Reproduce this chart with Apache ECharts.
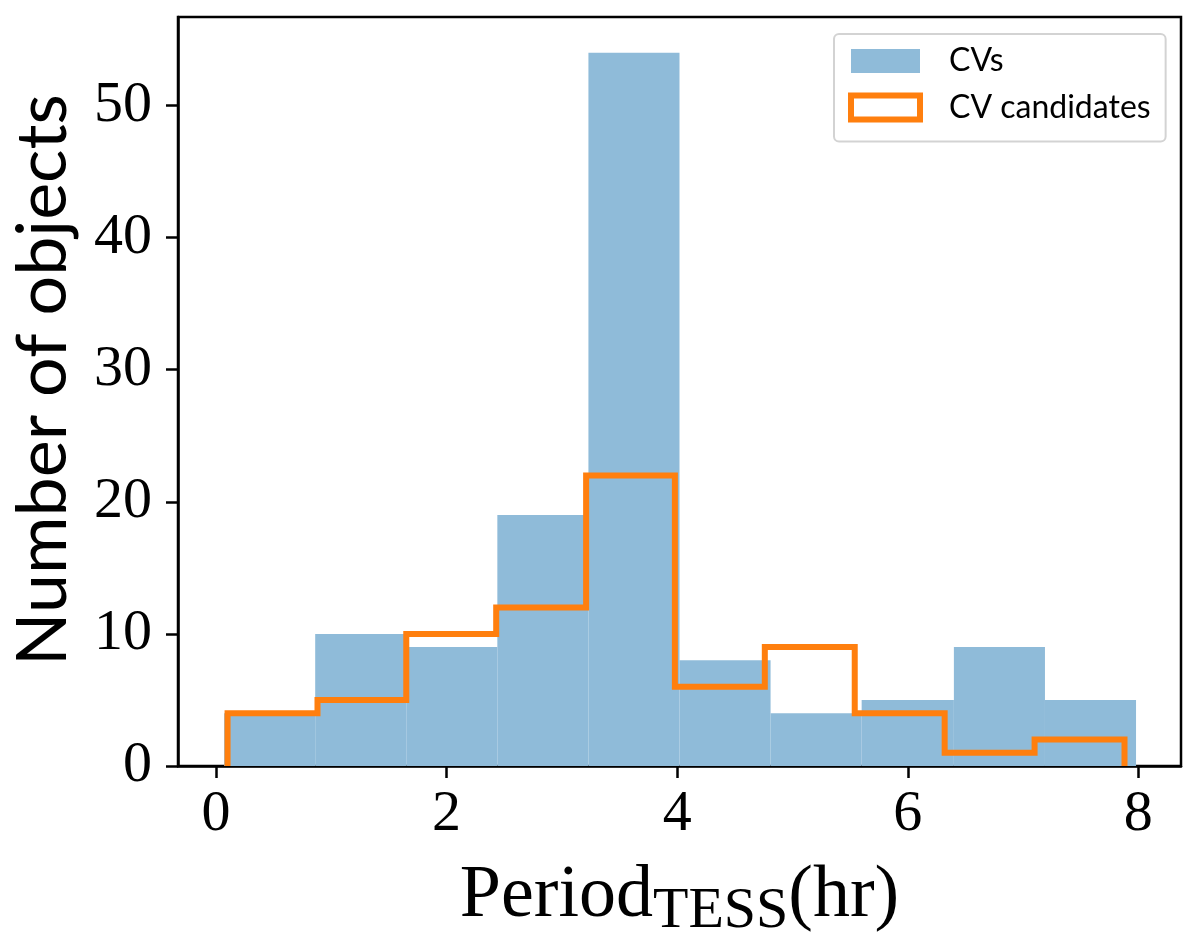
<!DOCTYPE html>
<html><head><meta charset="utf-8">
<script src="https://cdn.jsdelivr.net/npm/echarts@6/dist/echarts.min.js"></script>
<style>html,body{margin:0;padding:0;background:#fff}#c{width:1200px;height:949px}</style>
</head><body><div id="c"></div>
<script>
// histogram bin edges (hr) and counts
const cvEdges = [0.07, 0.86, 1.65, 2.44, 3.23, 4.02, 4.81, 5.60, 6.40, 7.19, 7.98];
const cvCounts = [4, 10, 9, 19, 54, 8, 4, 5, 9, 5];
const candEdges = [0.10, 0.88, 1.65, 2.43, 3.21, 3.98, 4.76, 5.54, 6.32, 7.10, 7.88];
const candCounts = [4, 5, 10, 12, 22, 6, 9, 4, 1, 2];
const xTicks = [0, 2, 4, 6, 8];
const yTicks = [0, 10, 20, 30, 40, 50];
const seriesNames = ['CVs', 'CV candidates'];

const cvData = cvCounts.map((c, i) => [cvEdges[i], cvEdges[i + 1], c]);
const stepData = [[candEdges[0], 0]];
candCounts.forEach((c, i) => { stepData.push([candEdges[i], c]); stepData.push([candEdges[i + 1], c]); });
stepData.push([candEdges[candEdges.length - 1], 0]);

const blue = '#8fbbd9', orange = '#ff7f0e';
const chart = echarts.init(document.getElementById('c'), null, {renderer: 'canvas'});
chart.setOption({
  animation: false,
  backgroundColor: '#fff',
  grid: {left: 178, right: 19, top: 17, bottom: 183, show: true, borderColor: '#000', borderWidth: 2.5, backgroundColor: 'transparent'},
  xAxis: {
    type: 'value', min: -0.33, max: 8.37,
    axisLine: {show: true, onZero: false, lineStyle: {color: '#000', width: 2.5}},
    axisTick: {show: true, length: 12, lineStyle: {color: '#000', width: 2.5}, customValues: xTicks},
    axisLabel: {customValues: xTicks, fontFamily: 'Liberation Serif', fontSize: 58, color: '#000', margin: 20},
    splitLine: {show: false},
    name: '{a|Period}{b|TESS}{a|(hr)}', nameLocation: 'middle', nameGap: 94,
    nameTextStyle: {rich: {
      a: {fontFamily: 'Liberation Serif', fontSize: 74, lineHeight: 74, color: '#000'},
      b: {fontFamily: 'Liberation Serif', fontSize: 58, lineHeight: 58, padding: [30, 0, 0, 0], color: '#000'}
    }}
  },
  yAxis: {
    type: 'value', min: 0, max: 56.7,
    axisLine: {show: true, onZero: false, lineStyle: {color: '#000', width: 2.5}},
    axisTick: {show: true, length: 12, lineStyle: {color: '#000', width: 2.5}, customValues: yTicks},
    axisLabel: {customValues: yTicks, fontFamily: 'Liberation Serif', fontSize: 58, color: '#000', margin: 26},
    splitLine: {show: false},
    name: 'Number of objects', nameLocation: 'middle', nameGap: 100,
    nameTextStyle: {fontFamily: 'Lato', fontSize: 70, color: '#000', padding: [0, 0, 0, 23]}
  },
  legend: {
    orient: 'vertical', left: 834, top: 34, padding: [11, 15, 18, 14], itemGap: 14.5,
    itemWidth: 69, itemHeight: 24, backgroundColor: '#fff', borderColor: '#d3d3d3', borderWidth: 2, borderRadius: 5,
    textStyle: {fontFamily: 'Lato', fontSize: 32, color: '#000', padding: [0, 0, 0, 24], lineHeight: 30},
    data: [
      {name: seriesNames[0], icon: 'rect', itemStyle: {color: blue, borderWidth: 0}},
      {name: seriesNames[1], icon: 'rect', itemStyle: {color: '#fff', borderColor: orange, borderWidth: 6}}
    ]
  },
  series: [
    {
      name: seriesNames[0], type: 'custom', data: cvData, encode: {x: [0, 1], y: 2},
      itemStyle: {color: blue},
      renderItem: (params, api) => {
        const p0 = api.coord([api.value(0), api.value(2)]);
        const p1 = api.coord([api.value(1), 0]);
        return {type: 'rect', shape: {x: p0[0], y: p0[1], width: p1[0] - p0[0], height: p1[1] - p0[1]}, style: {fill: blue}};
      },
      z: 2
    },
    {
      name: seriesNames[1], type: 'line', data: stepData, symbol: 'none', showSymbol: false,
      lineStyle: {color: orange, width: 6, join: 'miter', cap: 'butt'},
      itemStyle: {color: orange}, z: 3
    }
  ]
});
</script></body></html>
